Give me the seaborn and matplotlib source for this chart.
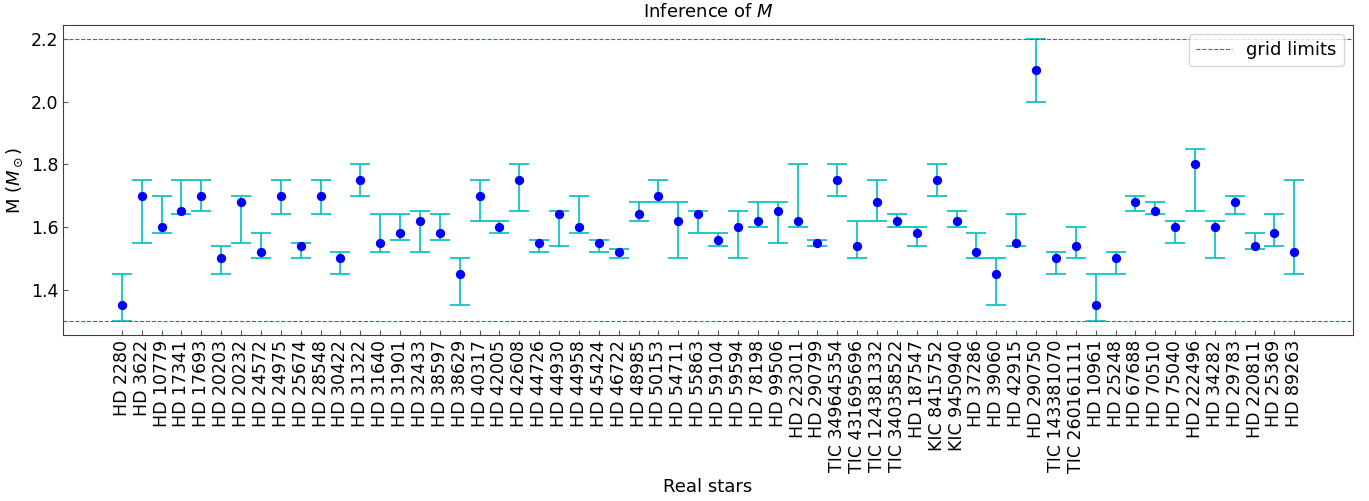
import numpy as np
import pandas as pd
import matplotlib
matplotlib.use("Agg")
import matplotlib.pyplot as plt
import seaborn as sns

stars = ["HD 2280", "HD 3622", "HD 10779", "HD 17341", "HD 17693", "HD 20203",
         "HD 20232", "HD 24572", "HD 24975", "HD 25674", "HD 28548", "HD 30422",
         "HD 31322", "HD 31640", "HD 31901", "HD 32433", "HD 38597", "HD 38629",
         "HD 40317", "HD 42005", "HD 42608", "HD 44726", "HD 44930", "HD 44958",
         "HD 45424", "HD 46722", "HD 48985", "HD 50153", "HD 54711", "HD 55863",
         "HD 59104", "HD 59594", "HD 78198", "HD 99506", "HD 223011", "HD 290799",
         "TIC 349645354", "TIC 431695696", "TIC 124381332", "TIC 340358522",
         "HD 187547", "KIC 8415752", "KIC 9450940", "HD 37286", "HD 39060",
         "HD 42915", "HD 290750", "TIC 143381070", "TIC 260161111", "HD 10961",
         "HD 25248", "HD 67688", "HD 70510", "HD 75040", "HD 222496", "HD 34282",
         "HD 29783", "HD 220811", "HD 25369", "HD 89263"]

mass = [1.35, 1.70, 1.60, 1.65, 1.70, 1.50, 1.68, 1.52, 1.70, 1.54,
        1.70, 1.50, 1.75, 1.55, 1.58, 1.62, 1.58, 1.45, 1.70, 1.60,
        1.75, 1.55, 1.64, 1.60, 1.55, 1.52, 1.64, 1.70, 1.62, 1.64,
        1.56, 1.60, 1.62, 1.65, 1.62, 1.55, 1.75, 1.54, 1.68, 1.62,
        1.58, 1.75, 1.62, 1.52, 1.45, 1.55, 2.10, 1.50, 1.54, 1.35,
        1.50, 1.68, 1.65, 1.60, 1.80, 1.60, 1.68, 1.54, 1.58, 1.52]

upper = [1.45, 1.75, 1.70, 1.75, 1.75, 1.54, 1.70, 1.58, 1.75, 1.55,
         1.75, 1.52, 1.80, 1.64, 1.64, 1.65, 1.64, 1.50, 1.75, 1.62,
         1.80, 1.56, 1.65, 1.70, 1.56, 1.53, 1.68, 1.75, 1.68, 1.65,
         1.58, 1.65, 1.68, 1.68, 1.80, 1.56, 1.80, 1.62, 1.75, 1.64,
         1.60, 1.80, 1.65, 1.58, 1.50, 1.64, 2.20, 1.52, 1.60, 1.45,
         1.52, 1.70, 1.68, 1.62, 1.85, 1.62, 1.70, 1.58, 1.64, 1.75]

lower = [1.30, 1.55, 1.58, 1.64, 1.65, 1.45, 1.55, 1.50, 1.64, 1.50,
         1.64, 1.45, 1.70, 1.52, 1.56, 1.52, 1.56, 1.35, 1.62, 1.58,
         1.65, 1.52, 1.54, 1.58, 1.52, 1.50, 1.62, 1.68, 1.50, 1.58,
         1.54, 1.50, 1.60, 1.55, 1.60, 1.54, 1.70, 1.50, 1.62, 1.60,
         1.54, 1.70, 1.60, 1.50, 1.35, 1.54, 2.00, 1.45, 1.50, 1.30,
         1.45, 1.65, 1.64, 1.55, 1.65, 1.50, 1.64, 1.53, 1.54, 1.45]

grid_limits = [1.3, 2.2]

df = pd.DataFrame({"star": stars, "M": mass, "up": upper, "lo": lower})

sns.set_style("ticks")
plt.rcParams['font.family'] = ['DejaVu Sans']
plt.rcParams['text.color'] = 'black'
plt.rcParams['axes.labelcolor'] = 'black'
plt.rcParams['axes.edgecolor'] = '0.25'

fig = plt.figure(figsize=(13.69, 5.01), dpi=100)
ax = fig.add_axes([0.0462, 0.3313, 0.9883 - 0.0462, 0.9501 - 0.3313])

yerr = np.vstack([df["M"] - df["lo"], df["up"] - df["M"]])
ax.errorbar(df["star"], df["M"], yerr=yerr, fmt="none", ecolor="c",
            elinewidth=1.2, capsize=7, capthick=1.2, zorder=2)
sns.scatterplot(data=df, x="star", y="M", ax=ax, color="blue", s=45,
                linewidth=0, zorder=3, legend=False)

ax.axhline(grid_limits[0], color="C0", ls="--", lw=0.8, label="grid limits")
ax.axhline(grid_limits[1], color="C0", ls="--", lw=0.8)

ax.set_xticks(range(len(stars)))
ax.set_xticklabels(stars, rotation=90, fontsize=12.5)
ax.tick_params(axis="both", direction="in", labelsize=12.5,
               labelcolor="black", color="0.35")
ax.set_yticks([1.4, 1.6, 1.8, 2.0, 2.2])
ax.set_title("Inference of $M$", fontsize=13)
ax.set_xlabel("Real stars", fontsize=13)
ax.set_ylabel(r"M ($M_\odot$)", fontsize=13)
ax.legend(loc="upper right", fontsize=13)

fig.savefig("out.png", dpi=100)
